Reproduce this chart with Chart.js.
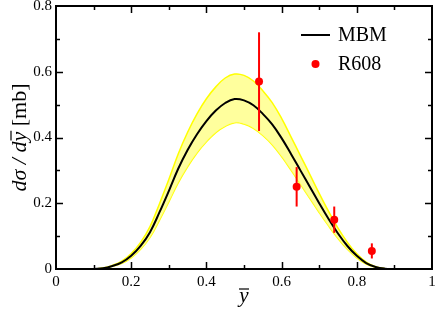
<!DOCTYPE html>
<html><head><meta charset="utf-8">
<script src="https://cdn.jsdelivr.net/npm/chart.js@4/dist/chart.umd.min.js"></script>
<style>html,body{margin:0;padding:0;background:#fff}#wrap{width:436px;height:310px}</style>
</head><body><div id="wrap"><canvas id="c" width="436" height="310"></canvas></div>
<script>
const xGrid = [0.1,0.125,0.15,0.175,0.2,0.225,0.25,0.275,0.3,0.325,0.35,0.375,0.4,0.425,0.45,0.475,0.5,0.525,0.55,0.575,0.6,0.625,0.65,0.675,0.7,0.725,0.75,0.775,0.8,0.825,0.85,0.875,0.9];
const mbm   = [0,0.002,0.009,0.02,0.04,0.07,0.112,0.172,0.237,0.305,0.362,0.41,0.45,0.482,0.505,0.517,0.513,0.498,0.472,0.44,0.398,0.35,0.30,0.25,0.20,0.152,0.108,0.07,0.04,0.018,0.006,0.001,0];
const mbmUp = [0,0.003,0.011,0.024,0.047,0.081,0.129,0.198,0.272,0.35,0.416,0.472,0.518,0.554,0.581,0.593,0.589,0.572,0.542,0.506,0.458,0.402,0.345,0.288,0.23,0.175,0.124,0.081,0.046,0.021,0.007,0.001,0];
const mbmLo = [0,0.002,0.008,0.017,0.034,0.06,0.096,0.148,0.204,0.262,0.311,0.353,0.387,0.415,0.434,0.445,0.441,0.428,0.406,0.378,0.342,0.301,0.258,0.215,0.172,0.131,0.093,0.06,0.034,0.015,0.005,0.001,0];
const r608X   = [0.54,0.64,0.74,0.84];
const r608Y   = [0.57,0.25,0.15,0.055];
const r608Err = [0.15,0.06,0.04,0.023];
const xTicks = [0,0.2,0.4,0.6,0.8,1];
const yTicks = [0,0.2,0.4,0.6,0.8];

const pts = (xs, ys) => xs.map((x,i)=>({x:x,y:ys[i]}));

const framePlugin = {
  id:'frame',
  afterDatasetsDraw(chart){
    const {ctx, chartArea:a, scales:{x,y}} = chart;
    ctx.save();
    ctx.strokeStyle='#ff0000'; ctx.lineWidth=2;
    r608X.forEach((xv,i)=>{
      const px=x.getPixelForValue(xv);
      ctx.beginPath();
      ctx.moveTo(px,y.getPixelForValue(r608Y[i]-r608Err[i]));
      ctx.lineTo(px,y.getPixelForValue(r608Y[i]+r608Err[i]));
      ctx.stroke();
    });
    ctx.fillStyle='#ff0000';
    r608X.forEach((xv,i)=>{
      ctx.beginPath(); ctx.arc(x.getPixelForValue(xv),y.getPixelForValue(r608Y[i]),4,0,Math.PI*2); ctx.fill();
    });
    ctx.strokeStyle='#000'; ctx.lineWidth=2;
    ctx.strokeRect(a.left,a.top,a.right-a.left,a.bottom-a.top);
    ctx.lineWidth=1.5;
    for(let k=1;k<10;k++){
      const v=k/10, len=(k%2===0)?7:4, px=Math.round(x.getPixelForValue(v))+0.5;
      ctx.beginPath();
      ctx.moveTo(px,a.bottom); ctx.lineTo(px,a.bottom-len);
      ctx.moveTo(px,a.top); ctx.lineTo(px,a.top+len);
      ctx.stroke();
    }
    for(let k=1;k<8;k++){
      const v=k/10, len=(k%2===0)?7:4, py=Math.round(y.getPixelForValue(v))+0.5;
      ctx.beginPath();
      ctx.moveTo(a.left,py); ctx.lineTo(a.left+len,py);
      ctx.moveTo(a.right,py); ctx.lineTo(a.right-len,py);
      ctx.stroke();
    }
    // legend
    ctx.strokeStyle='#000'; ctx.lineWidth=2;
    ctx.beginPath(); ctx.moveTo(301,35); ctx.lineTo(330,35); ctx.stroke();
    ctx.fillStyle='#ff0000';
    ctx.beginPath(); ctx.arc(315.5,64,4,0,Math.PI*2); ctx.fill();
    ctx.fillStyle='#000';
    ctx.font='20px "Liberation Serif"';
    ctx.textBaseline='middle'; ctx.textAlign='left';
    ctx.fillText('MBM',338,36);
    ctx.fillText('R608',338,65);
    // x title
    ctx.font='italic 21px "Liberation Serif"';
    ctx.textAlign='center'; ctx.textBaseline='alphabetic';
    const cx=(a.left+a.right)/2;
    ctx.fillText('y',cx,302);
    ctx.lineWidth=1.2;
    ctx.beginPath(); ctx.moveTo(cx-5,289); ctx.lineTo(cx+5,289); ctx.stroke();
    // y title
    ctx.translate(20,(a.top+a.bottom)/2);
    ctx.rotate(-Math.PI/2);
    const it='italic 22px "Liberation Serif"', up='22px "Liberation Serif"';
    const parts=[['dσ / d',it],['y',it],[' [mb]',up]];
    let tot=0; parts.forEach(p=>{ctx.font=p[1]; tot+=ctx.measureText(p[0]).width;});
    let sx=-tot/2;
    ctx.textAlign='left'; ctx.textBaseline='middle';
    parts.forEach((p,i)=>{
      ctx.font=p[1]; const w=ctx.measureText(p[0]).width;
      ctx.fillText(p[0],sx,0);
      if(i===1){ctx.beginPath(); ctx.moveTo(sx+1,-9); ctx.lineTo(sx+w+1,-9); ctx.stroke();}
      sx+=w;
    });
    ctx.restore();
  }
};

const noPad = s => { s.paddingTop=0; s.paddingBottom=0; s.paddingLeft=0; s.paddingRight=0; };

new Chart(document.getElementById('c'),{
  type:'line',
  data:{datasets:[
    {data:pts(xGrid,mbmLo),borderColor:'#ffff00',borderWidth:1.5,pointRadius:0,fill:false,tension:0.4,order:3},
    {data:pts(xGrid,mbmUp),borderColor:'#ffff00',borderWidth:1.5,pointRadius:0,fill:'-1',backgroundColor:'rgba(255,255,140,0.85)',tension:0.4,order:2},
    {data:pts(xGrid,mbm),borderColor:'#000',borderWidth:2,pointRadius:0,fill:false,tension:0.4,order:1},
    {data:pts(r608X,r608Y),showLine:false,pointRadius:0,order:0}
  ]},
  options:{
    responsive:false,animation:false,
    layout:{padding:{left:0,right:4,top:6,bottom:0}},
    plugins:{legend:{display:false},tooltip:{enabled:false}},
    scales:{
      x:{type:'linear',min:0,max:1,
        afterBuildTicks:s=>{s.ticks=xTicks.map(v=>({value:v}));},
        afterFit:s=>{s.height=41; noPad(s);},
        grid:{display:false,drawTicks:false,tickLength:0},border:{display:false},
        ticks:{color:'#000',font:{family:'Liberation Serif',size:15},padding:4,maxRotation:0,autoSkip:false,callback:v=>String(v)}},
      y:{min:0,max:0.8,
        afterBuildTicks:s=>{s.ticks=yTicks.map(v=>({value:v}));},
        afterFit:s=>{s.width=56; noPad(s);},
        grid:{display:false,drawTicks:false,tickLength:0},border:{display:false},
        ticks:{color:'#000',font:{family:'Liberation Serif',size:15},padding:4,autoSkip:false,callback:v=>String(v)}}
    }
  },
  plugins:[framePlugin]
});
</script></body></html>
